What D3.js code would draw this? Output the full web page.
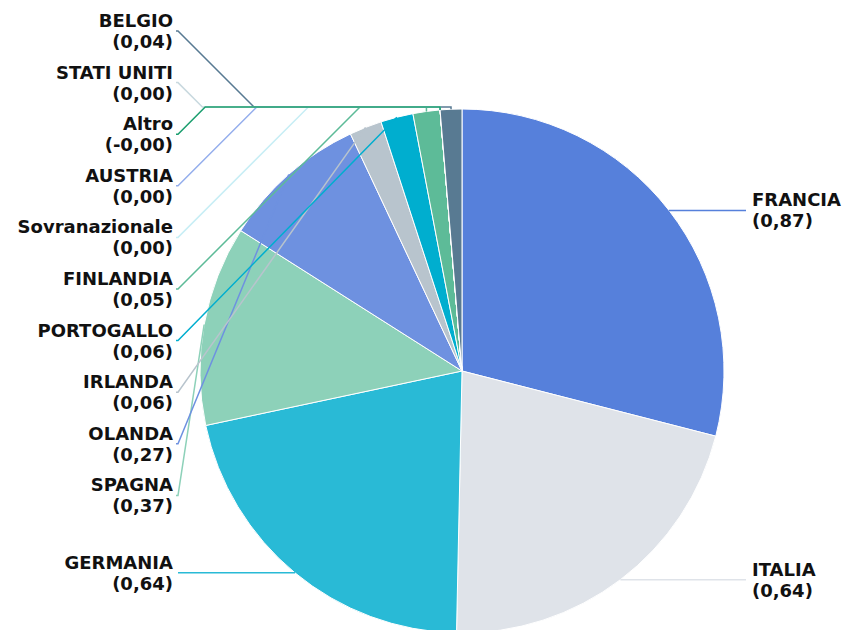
<!DOCTYPE html>
<html>
<head>
<meta charset="utf-8">
<script src="https://cdn.jsdelivr.net/npm/d3@7"></script>
<style>
  body { margin: 0; background: #fff; }
  text { font-family: "DejaVu Sans", Verdana, sans-serif; font-weight: bold; font-size: 18px; fill: #111; }
</style>
</head>
<body>
<svg id="pie-chart" width="844" height="630"></svg>
<script>
// slices clockwise from 12 o'clock
const countries = ["FRANCIA", "ITALIA", "GERMANIA", "SPAGNA", "OLANDA", "IRLANDA", "PORTOGALLO",
    "FINLANDIA", "Sovranazionale", "AUSTRIA", "Altro", "STATI UNITI", "BELGIO"];
const values = [0.87, 0.64, 0.64, 0.37, 0.27, 0.06, 0.06, 0.05, 0.00, 0.00, -0.001, 0.00, 0.04];
const colors = ["#5680DB", "#DFE3E9", "#29BAD6", "#8DD1B9", "#6E91E0", "#B8C4CD", "#00AECF",
    "#5DBB98", "#C8EEF5", "#94AEEC", "#1A9E6E", "#C9D9DF", "#587A92"];

const width = 844;
const height = 630;
const cx = 462;
const cy = 371;
const radius = 262;

const svg = d3.select("#pie-chart");

const pie = d3.pie()
    .sort(null)
    .value(function (d) { return Math.max(d, 0); });
const arcs = pie(values);

const arc = d3.arc()
    .innerRadius(0)
    .outerRadius(radius);

// slices
svg.append("g")
    .attr("transform", `translate(${cx}, ${cy})`)
    .selectAll("path")
    .data(arcs)
    .join("path")
    .attr("d", arc)
    .style("fill", function (d, i) { return colors[i]; })
    .style("stroke", "#fff")
    .style("stroke-width", 1);

function fmt(v) {
    return (v < 0 ? "-" : "") + Math.abs(v).toFixed(2).replace(".", ",");
}

// label layout
const items = arcs.map(function (a, i) {
    const mid = (a.startAngle + a.endAngle) / 2;
    return {
        i: i,
        mid: mid,
        tx: cx + radius * Math.sin(mid),
        ty: cy - radius * Math.cos(mid),
        right: mid < Math.PI
    };
});

const leftStack = items
    .filter(function (d) { return !d.right && d.mid > 1.5 * Math.PI; })
    .sort(function (a, b) { return b.mid - a.mid || b.i - a.i; });
leftStack.forEach(function (d, k) { d.ly = 31 + k * 51.6; });
items.forEach(function (d) { if (d.ly === undefined) d.ly = d.ty; });

const elbowY = cy - radius - 2;
const leftX = 178;
const rightX = 746;

function leaderPoints(d) {
    if (d.right) return [[d.tx, d.ty], [rightX, d.ly]];
    if (Math.abs(d.ty - d.ly) < 1) return [[d.tx, d.ty], [leftX, d.ly]];
    if (d.ty < cy - radius + 4) {
        const ex = leftX + Math.abs(d.ly - elbowY);
        return [[leftX - 2, d.ly], [leftX, d.ly], [ex, elbowY], [d.tx, elbowY], [d.tx, d.ty]];
    }
    return [[leftX - 2, d.ly], [leftX, d.ly], [d.tx, d.ty]];
}

// leader lines, smaller values drawn on top
const drawOrder = items.slice().sort(function (a, b) { return values[b.i] - values[a.i]; });
svg.append("g")
    .selectAll("path")
    .data(drawOrder)
    .join("path")
    .attr("d", function (d) { return d3.line()(leaderPoints(d)); })
    .style("fill", "none")
    .style("stroke", function (d) { return colors[d.i]; })
    .style("stroke-width", 1.5);

// labels
const labels = svg.append("g")
    .selectAll("text")
    .data(items)
    .join("text")
    .attr("text-anchor", function (d) { return d.right ? "start" : "end"; })
    .attr("x", function (d) { return d.right ? 752 : 173; });
labels.append("tspan")
    .attr("x", function (d) { return d.right ? 752 : 173; })
    .attr("y", function (d) { return d.ly - 4; })
    .text(function (d) { return countries[d.i]; });
labels.append("tspan")
    .attr("x", function (d) { return d.right ? 752 : 173; })
    .attr("y", function (d) { return d.ly + 17; })
    .text(function (d) { return "(" + fmt(values[d.i]) + ")"; });
</script>
</body>
</html>
